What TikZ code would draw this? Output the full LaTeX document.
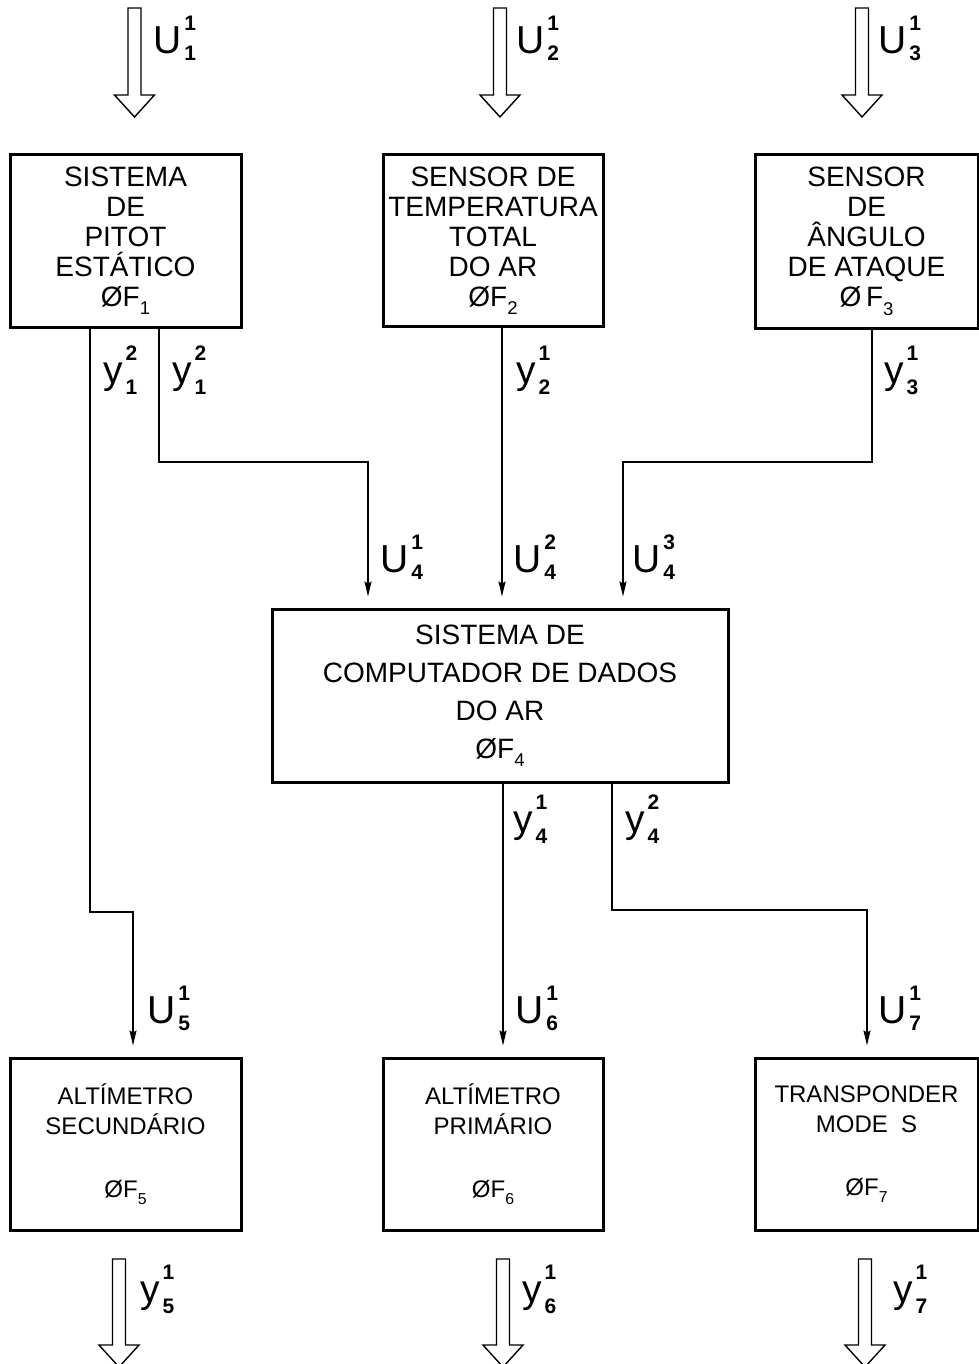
\documentclass[tikz,border=0pt]{standalone}
\usepackage{fontspec}
\setmainfont{Liberation Sans}
\usetikzlibrary{arrows.meta}
\newcommand{\lowsub}[1]{\raisebox{-0.3em}{\scalebox{0.66}{#1}}}
\newcommand{\sigU}[3]{\fontsize{39}{39}\selectfont #1\kern3pt\rlap{\raisebox{23pt}{\fontsize{21}{21}\selectfont\bfseries #2}}\raisebox{-7pt}{\fontsize{21}{21}\selectfont\bfseries #3}}
\newcommand{\sigY}[3]{\fontsize{39}{39}\selectfont #1\kern3pt\rlap{\raisebox{23pt}{\fontsize{21}{21}\selectfont\bfseries #2}}\raisebox{-11pt}{\fontsize{21}{21}\selectfont\bfseries #3}}
\newcommand{\hollowarrow}[3]{%
  \draw[hollow] (#1-6.5,#2) -- (#1+6.5,#2) -- (#1+6.5,#3) -- (#1+20,#3) -- (#1,#3+22) -- (#1-20,#3) -- (#1-6.5,#3) -- cycle;}
\begin{document}
\begin{tikzpicture}[x=1pt,y=-1pt,
  box/.style={draw,line width=3pt,inner sep=0pt,align=center,font=\fontsize{28}{30}\selectfont},
  lowbox/.style={box,font=\fontsize{24}{30}\selectfont},
  conn/.style={line width=1.5pt,shorten >=11pt,-{Stealth[length=15pt,width=7pt,inset=2pt]}},
  hollow/.style={line width=1.4pt,line join=miter},
  lab/.style={anchor=base west,inner sep=0pt}]
\useasboundingbox (0,0) rectangle (978,1364);

% boxes
\node[box,minimum width=231pt,minimum height=172pt] (b1) at (125.5,241)
  {SISTEMA\\DE\\PITOT\\ESTÁTICO\\ØF\lowsub{1}};
\node[box,minimum width=220pt,minimum height=171pt] (b2) at (493,240.5)
  {SENSOR DE\\TEMPERATURA\\TOTAL\\DO AR\\ØF\lowsub{2}};
\node[box,minimum width=223pt,minimum height=173pt] (b3) at (866.5,241.5)
  {SENSOR\\DE\\ÂNGULO\\DE ATAQUE\\Ø\,F\lowsub{3}};
\node[box,font=\fontsize{28}{38}\selectfont,minimum width=456pt,minimum height=173pt] (b4) at (500,695.5)
  {SISTEMA DE\\COMPUTADOR DE DADOS\\DO AR\\ØF\lowsub{4}};
\node[lowbox,minimum width=231pt,minimum height=172pt] (b5) at (125.5,1144)
  {ALTÍMETRO\\SECUNDÁRIO\\[33pt]ØF\lowsub{5}};
\node[lowbox,minimum width=220pt,minimum height=172pt] (b6) at (493,1144)
  {ALTÍMETRO\\PRIMÁRIO\\[33pt]ØF\lowsub{6}};
\node[lowbox,minimum width=223pt,minimum height=172pt] (b7) at (866.5,1144)
  {TRANSPONDER\\MODE\ \ S\\[33pt]ØF\lowsub{7}};

% bend / column coordinates
\coordinate (k1) at (159,462);
\coordinate (a41) at (368,0);
\coordinate (a42) at (502,0);
\coordinate (k3) at (872,462);
\coordinate (a43) at (623,0);
\coordinate (k5) at (90,912);
\coordinate (a5) at (133,0);
\coordinate (a6) at (503,0);
\coordinate (k7) at (612,910);
\coordinate (a7) at (867,0);

% connectors
\draw[conn] (b1.south -| k1) -- (k1) -| (b4.north -| a41);
\draw[conn] (b2.south -| a42) -- (b4.north -| a42);
\draw[conn] (b3.south -| k3) -- (k3) -| (b4.north -| a43);
\draw[conn] (b1.south -| k5) -- (k5) -| (b5.north -| a5);
\draw[conn] (b4.south -| a6) -- (b6.north -| a6);
\draw[conn] (b4.south -| k7) -- (k7) -| (b7.north -| a7);

% hollow input / output arrows
\hollowarrow{134.5}{8}{95}
\hollowarrow{500}{8}{95}
\hollowarrow{862}{8}{95}
\hollowarrow{119}{1259}{1345}
\hollowarrow{503}{1259}{1345}
\hollowarrow{865}{1259}{1345}

% labels
\node[lab] (u11) at (153,54) {\sigU{U}{1}{1}};
\node[lab] (u21) at (516,54) {\sigU{U}{1}{2}};
\node[lab] (u31) at (878,54) {\sigU{U}{1}{3}};
\node[lab] (y12a) at (103,383) {\sigY{y}{2}{1}};
\node[lab] (y12b) at (172,383) {\sigY{y}{2}{1}};
\node[lab] (y21) at (516,383) {\sigY{y}{1}{2}};
\node[lab] (y31) at (884,383) {\sigY{y}{1}{3}};
\node[lab] (u41) at (380,572) {\sigU{U}{1}{4}};
\node[lab] (u42) at (513,572) {\sigU{U}{2}{4}};
\node[lab] (u43) at (632,572) {\sigU{U}{3}{4}};
\node[lab] (y41) at (513,832) {\sigY{y}{1}{4}};
\node[lab] (y42) at (625,832) {\sigY{y}{2}{4}};
\node[lab] (u51) at (147,1023) {\sigU{U}{1}{5}};
\node[lab] (u61) at (515,1023) {\sigU{U}{1}{6}};
\node[lab] (u71) at (878,1023) {\sigU{U}{1}{7}};
\node[lab] (y51) at (140,1302) {\sigY{y}{1}{5}};
\node[lab] (y61) at (522,1302) {\sigY{y}{1}{6}};
\node[lab] (y71) at (893,1302) {\sigY{y}{1}{7}};
\end{tikzpicture}
\end{document}
